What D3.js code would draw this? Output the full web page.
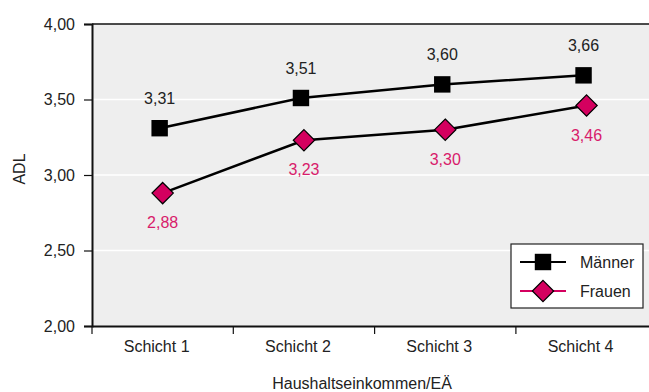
<!DOCTYPE html>
<html><head><meta charset="utf-8">
<script src="https://cdn.jsdelivr.net/npm/d3@7"></script>
<style>
body{margin:0;background:#fff;}
svg text{font-family:"Liberation Sans Narrow","Arial Narrow","Liberation Sans",sans-serif;}
</style></head>
<body><svg id="c" width="649" height="392"></svg>
<script>
const categories = ["Schicht 1","Schicht 2","Schicht 3","Schicht 4"];
const maenner = [3.31, 3.51, 3.60, 3.66];
const frauen = [2.88, 3.23, 3.30, 3.46];
const yTicks = [2.0, 2.5, 3.0, 3.5, 4.0];
const seriesNames = ["Männer","Frauen"];
const xTitle = "Haushaltseinkommen/EÄ";
const yTitle = "ADL";

const pink = "#d4005f";
const pinkText = "#d81b6b";
const FS = 16;
const svg = d3.select("#c");
const L = 92, T = 24, B = 326, bw = 141.3;
const x = d3.scaleBand().domain(categories).range([L, L + bw*4]).paddingInner(0).paddingOuter(0);
const y = d3.scaleLinear().domain([2, 4]).range([B, T]);
const fmt = v => d3.format(".2f")(v).replace(".", ",");
const ff = '"Liberation Sans Narrow","Arial Narrow","Liberation Sans",sans-serif';

// plot background
svg.append("rect").attr("x", L).attr("y", T).attr("width", 649 - L).attr("height", B - T).attr("fill", "#eeeeee");
// gridlines
svg.selectAll(".g").data(yTicks.filter(v => v > 2 && v < 4)).enter().append("line")
  .attr("x1", L).attr("x2", 649).attr("y1", d => y(d)).attr("y2", d => y(d))
  .attr("stroke", "#fff").attr("stroke-width", 1.5);
// top border
svg.append("line").attr("x1", L).attr("x2", 649).attr("y1", T).attr("y2", T).attr("stroke", "#111").attr("stroke-width", 1.5);

// y axis
const ya = svg.append("g").attr("transform", `translate(${L},0)`)
  .call(d3.axisLeft(y).tickValues(yTicks).tickFormat(fmt).tickSize(8).tickPadding(9));
ya.select(".domain").attr("stroke", "#111").attr("stroke-width", 2);
ya.selectAll(".tick line").attr("stroke", "#111").attr("stroke-width", 1.2);
ya.selectAll("text").attr("font-size", FS).attr("fill", "#222").style("font-family", ff);

// x axis
const xa = svg.append("g").attr("transform", `translate(0,${B})`)
  .call(d3.axisBottom(x).tickSize(0).tickPadding(15));
xa.select(".domain").attr("stroke", "#111").attr("stroke-width", 2);
xa.selectAll("text").attr("font-size", FS).attr("fill", "#222").attr("dx", -6).style("font-family", ff);
// boundary ticks
svg.selectAll(".bt").data(categories).enter().append("line")
  .attr("x1", d => x(d)).attr("x2", d => x(d)).attr("y1", B).attr("y2", B + 8)
  .attr("stroke", "#111").attr("stroke-width", 1.2);

// titles
svg.append("text").attr("x", 362).attr("y", 389).attr("text-anchor", "middle")
  .attr("font-size", FS).attr("fill", "#222").text(xTitle);
svg.append("text").attr("transform", "translate(25,169) rotate(-90)").attr("text-anchor", "middle")
  .attr("font-size", FS).attr("fill", "#222").text(yTitle);

const cx = (d, off) => x(d) + x.bandwidth()/2 + off;
const mOff = -3, fOff = 0;

// lines
svg.append("path").datum(maenner).attr("fill", "none").attr("stroke", "#000").attr("stroke-width", 2.5)
  .attr("d", d3.line().x((v, i) => cx(categories[i], mOff)).y(v => y(v)));
svg.append("path").datum(frauen).attr("fill", "none").attr("stroke", "#000").attr("stroke-width", 2.5)
  .attr("d", d3.line().x((v, i) => cx(categories[i], fOff)).y(v => y(v)));

// markers
const sq = d3.symbol().type(d3.symbolSquare).size(270);
const dm = d3.symbol().type(d3.symbolDiamond2).size(290);
svg.selectAll(".m").data(maenner).enter().append("path")
  .attr("d", sq).attr("transform", (v, i) => `translate(${cx(categories[i], mOff)},${y(v)})`)
  .attr("fill", "#000");
svg.selectAll(".f").data(frauen).enter().append("path")
  .attr("d", dm).attr("transform", (v, i) => `translate(${cx(categories[i], fOff)},${y(v)})`)
  .attr("fill", pink).attr("stroke", "#000").attr("stroke-width", 1.2);

// value labels
svg.selectAll(".ml").data(maenner).enter().append("text")
  .attr("x", (v, i) => cx(categories[i], mOff)).attr("y", v => y(v) - 24)
  .attr("text-anchor", "middle").attr("font-size", FS).attr("fill", "#222").text(fmt);
svg.selectAll(".fl").data(frauen).enter().append("text")
  .attr("x", (v, i) => cx(categories[i], fOff)).attr("y", v => y(v) + 35)
  .attr("text-anchor", "middle").attr("font-size", FS).attr("fill", pinkText).text(fmt);

// legend
const lg = svg.append("g");
lg.append("rect").attr("x", 511).attr("y", 244).attr("width", 132).attr("height", 64)
  .attr("fill", "#fff").attr("stroke", "#222").attr("stroke-width", 1.2);
const items = [{n: seriesNames[0], c: "#000", s: sq, f: "#000", st: "none"},
               {n: seriesNames[1], c: pink, s: dm, f: pink, st: "#000"}];
items.forEach((it, i) => {
  const yy = 262 + i * 29;
  lg.append("line").attr("x1", 520).attr("x2", 566).attr("y1", yy).attr("y2", yy)
    .attr("stroke", it.c).attr("stroke-width", 2);
  lg.append("path").attr("d", it.s).attr("transform", `translate(543,${yy})`)
    .attr("fill", it.f).attr("stroke", it.st).attr("stroke-width", 1.2);
  lg.append("text").attr("x", 580).attr("y", yy + 6).attr("font-size", FS).attr("fill", "#222").text(it.n);
});
</script></body></html>
